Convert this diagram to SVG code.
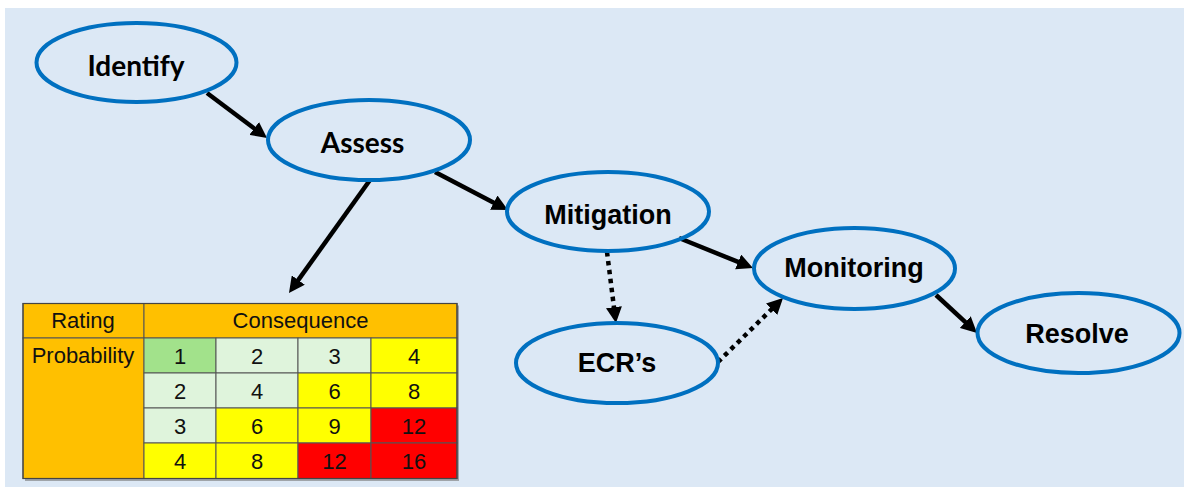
<svg xmlns="http://www.w3.org/2000/svg" width="1184" height="487" viewBox="0 0 1184 487">
<style>
.node ellipse{fill:none;stroke:#0070C0;stroke-width:4}
.lbl{font-family:"Liberation Sans",Arial,sans-serif;font-weight:bold;font-size:27px;fill:#000;text-anchor:middle}
.lbl2{font-family:Lato,"Liberation Sans",sans-serif;font-weight:bold;font-size:28px;fill:#000;text-anchor:middle}
.conn{fill:none;stroke:#000;stroke-width:4.5}
.dot{stroke-dasharray:4.5 4.5}
.tt{font-family:"Liberation Sans",Arial,sans-serif;font-size:22px;fill:#111;text-anchor:middle}
.cell{stroke:#555;stroke-width:1}
.o{fill:#FFC000}.g{fill:#A2E28B}.p{fill:#DFF4DC}.y{fill:#FFFF00}.r{fill:#FF0000}
</style>
<defs>
<marker id="ah" markerUnits="userSpaceOnUse" markerWidth="16" markerHeight="16" refX="6" refY="8" orient="auto">
<path d="M0,0 L16,8 L0,16 z" fill="#000"/>
</marker>
</defs>
<rect x="0" y="0" width="1184" height="487" fill="#fff"/>
<rect x="5" y="8" width="1179" height="479" fill="#DCE8F5"/>

<g id="connectors">
<path class="conn" d="M207,93 L259,132" marker-end="url(#ah)"/>
<path class="conn" d="M435,172 L499.1,205.4" marker-end="url(#ah)"/>
<path class="conn" d="M370,180 L294.8,284.9" marker-end="url(#ah)"/>
<path class="conn" d="M679,238 L743.7,264.2" marker-end="url(#ah)"/>
<path class="conn" d="M936,295 L969.7,326.2" marker-end="url(#ah)"/>
<path class="conn dot" d="M607,252 L614.7,313.1" marker-end="url(#ah)"/>
<path class="conn dot" d="M718,362 L775.9,305" marker-end="url(#ah)"/>
</g>

<g id="identify" class="node"><ellipse cx="136.5" cy="62.5" rx="100" ry="39.5"/><text class="lbl2" x="136" y="76">Identify</text></g>
<g id="assess" class="node"><ellipse cx="369" cy="140" rx="101" ry="40"/><text class="lbl2" x="362.5" y="153">Assess</text></g>
<g id="mitigation" class="node"><ellipse cx="608" cy="211.5" rx="101" ry="39.5"/><text class="lbl" x="608" y="224">Mitigation</text></g>
<g id="monitoring" class="node"><ellipse cx="854.5" cy="268.5" rx="100.5" ry="40.5"/><text class="lbl" x="854" y="277">Monitoring</text></g>
<g id="resolve" class="node"><ellipse cx="1078.5" cy="333" rx="101" ry="40"/><text class="lbl" x="1077" y="343">Resolve</text></g>
<g id="ecrs" class="node"><ellipse cx="617" cy="363" rx="101" ry="40"/><text class="lbl" x="617" y="372">ECR’s</text></g>

<g id="risk-table">
<rect x="25" y="305.5" width="434" height="175.5" fill="#777" opacity="0.6"/>
<rect class="cell o" x="23" y="303.5" width="121" height="34.5"/>
<rect class="cell o" x="144" y="303.5" width="313" height="34.5"/>
<rect class="cell o" x="23" y="338" width="121" height="140.5"/>
<rect class="cell g" x="144" y="338" width="72" height="35"/>
<rect class="cell p" x="216" y="338" width="82" height="35"/>
<rect class="cell p" x="298" y="338" width="73" height="35"/>
<rect class="cell y" x="371" y="338" width="86" height="35"/>
<rect class="cell p" x="144" y="373" width="72" height="35"/>
<rect class="cell p" x="216" y="373" width="82" height="35"/>
<rect class="cell y" x="298" y="373" width="73" height="35"/>
<rect class="cell y" x="371" y="373" width="86" height="35"/>
<rect class="cell p" x="144" y="408" width="72" height="35"/>
<rect class="cell y" x="216" y="408" width="82" height="35"/>
<rect class="cell y" x="298" y="408" width="73" height="35"/>
<rect class="cell r" x="371" y="408" width="86" height="35"/>
<rect class="cell y" x="144" y="443" width="72" height="35.5"/>
<rect class="cell y" x="216" y="443" width="82" height="35.5"/>
<rect class="cell r" x="298" y="443" width="73" height="35.5"/>
<rect class="cell r" x="371" y="443" width="86" height="35.5"/>
<rect x="23" y="303.5" width="434" height="175" fill="none" stroke="#444" stroke-width="1.2"/>
<text class="tt" x="83" y="328">Rating</text>
<text class="tt" x="300.5" y="328">Consequence</text>
<text class="tt" x="83" y="363">Probability</text>
<text class="tt" x="180" y="364">1</text><text class="tt" x="257" y="364">2</text><text class="tt" x="334.5" y="364">3</text><text class="tt" x="414" y="364">4</text>
<text class="tt" x="180" y="399">2</text><text class="tt" x="257" y="399">4</text><text class="tt" x="334.5" y="399">6</text><text class="tt" x="414" y="399">8</text>
<text class="tt" x="180" y="434">3</text><text class="tt" x="257" y="434">6</text><text class="tt" x="334.5" y="434">9</text><text class="tt" x="414" y="434">12</text>
<text class="tt" x="180" y="469">4</text><text class="tt" x="257" y="469">8</text><text class="tt" x="334.5" y="469">12</text><text class="tt" x="414" y="469">16</text>
</g>
</svg>
